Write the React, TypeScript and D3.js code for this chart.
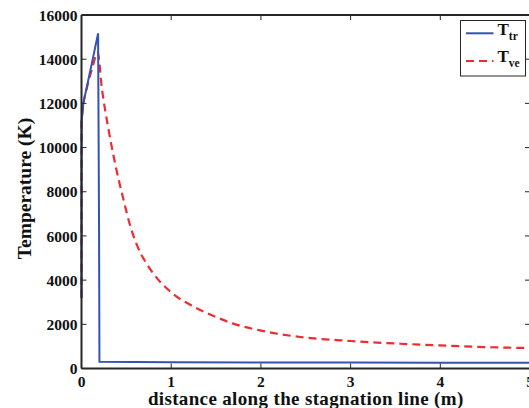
import React from "react";
import * as d3 from "d3";

const xTicks = [0, 1, 2, 3, 4, 5];
const yTicks = [0, 2000, 4000, 6000, 8000, 10000, 12000, 14000, 16000];

const ttrX = [0, 0.001, 0.02, 0.06, 0.12, 0.185, 0.196, 0.2, 0.6, 1, 2, 3, 4, 5];
const ttrY = [3200, 11200, 12000, 12750, 13900, 15170, 6000, 300, 290, 285, 275, 268, 262, 258];

const tveX = [0, 0.001, 0.02, 0.06, 0.12, 0.18, 0.228, 0.3, 0.376, 0.469, 0.544, 0.655, 0.73, 0.8, 0.99, 1.25, 1.5, 1.69, 1.99, 2.44, 3.0, 3.56, 4.0, 4.48, 5.0];
const tveY = [3200, 11100, 11900, 12700, 13600, 14300, 12650, 10850, 9250, 7630, 6450, 5250, 4720, 4300, 3480, 2800, 2330, 2030, 1725, 1425, 1245, 1120, 1045, 970, 925];

const seriesNames = ["tr", "ve"];

export default function App() {
  const W = 529, H = 408;
  const left = 81.5, right = 530, top = 15, bottom = 368.5;
  const x = d3.scaleLinear().domain([0, 5]).range([left, right]);
  const y = d3.scaleLinear().domain([0, 16000]).range([bottom, top]);
  const font = '"Liberation Serif"';
  const axisColor = "#262626";
  const ts = { fontFamily: font, fontWeight: "bold" as const };

  const lineGen = d3
    .line<[number, number]>()
    .x((d) => x(d[0]))
    .y((d) => y(d[1]));
  const curveGen = d3
    .line<[number, number]>()
    .x((d) => x(d[0]))
    .y((d) => y(d[1]))
    .curve(d3.curveMonotoneX);

  const ttr: [number, number][] = ttrX.map((v, i) => [v, ttrY[i]]);
  const tve: [number, number][] = tveX.map((v, i) => [v, tveY[i]]);

  const blue = "#3352b5";
  const red = "#ee2b2f";

  return (
    <svg width={W} height={H} style={{ position: "absolute", left: 0, top: 0, background: "#fff" }}>
      <rect x={0} y={0} width={W} height={H} fill="#fff" />
      <path d={curveGen(tve) || ""} fill="none" stroke={red} strokeWidth={2.2} strokeDasharray="8,5" />
      <path d={lineGen(ttr) || ""} fill="none" stroke={blue} strokeWidth={2} />

      <line x1={left} x2={right} y1={bottom} y2={bottom} stroke={axisColor} strokeWidth={2} />
      <line x1={left} x2={right} y1={top} y2={top} stroke={axisColor} strokeWidth={2} />
      <line x1={left} x2={left} y1={top} y2={bottom} stroke={axisColor} strokeWidth={2} />
      <line x1={right} x2={right} y1={top} y2={bottom} stroke={axisColor} strokeWidth={2} />

      {xTicks.map((t) => (
        <g key={"xt" + t}>
          <line x1={x(t)} x2={x(t)} y1={bottom} y2={bottom - 5} stroke={axisColor} strokeWidth={1} />
          <line x1={x(t)} x2={x(t)} y1={top} y2={top + 5} stroke={axisColor} strokeWidth={1} />
          <text x={x(t)} y={386.5} textAnchor="middle" fontSize={15.5} fill="#111" style={ts}>
            {t}
          </text>
        </g>
      ))}
      {yTicks.map((t) => (
        <g key={"yt" + t}>
          <line x1={left} x2={left + 5} y1={y(t)} y2={y(t)} stroke={axisColor} strokeWidth={1} />
          <line x1={right} x2={right - 5} y1={y(t)} y2={y(t)} stroke={axisColor} strokeWidth={1} />
          <text x={77.5} y={y(t)} dy="0.36em" textAnchor="end" fontSize={15.5} fill="#111" style={ts}>
            {t}
          </text>
        </g>
      ))}

      <text x={(left + right) / 2} y={405} textAnchor="middle" fontSize={19} letterSpacing={0.35} fill="#111" style={ts}>
        distance along the stagnation line (m)
      </text>
      <text transform={`translate(31,188.5) rotate(-90)`} textAnchor="middle" fontSize={19.5} fill="#111" style={ts}>
        Temperature (K)
      </text>

      <rect x={460.5} y={20.5} width={65} height={55.5} fill="#fff" stroke={axisColor} strokeWidth={1} />
      <line x1={466} x2={493.5} y1={33.3} y2={33.3} stroke={blue} strokeWidth={2} />
      <line x1={466} x2={493.5} y1={61} y2={61} stroke={red} strokeWidth={2.2} strokeDasharray="8,5" />
      {seriesNames.map((s, i) => (
        <text key={s} x={497.5} y={i === 0 ? 34.5 : 62} fontSize={17} fill="#111" style={ts}>
          T
          <tspan fontSize={11.5} dy={5}>
            {s}
          </tspan>
        </text>
      ))}
    </svg>
  );
}
